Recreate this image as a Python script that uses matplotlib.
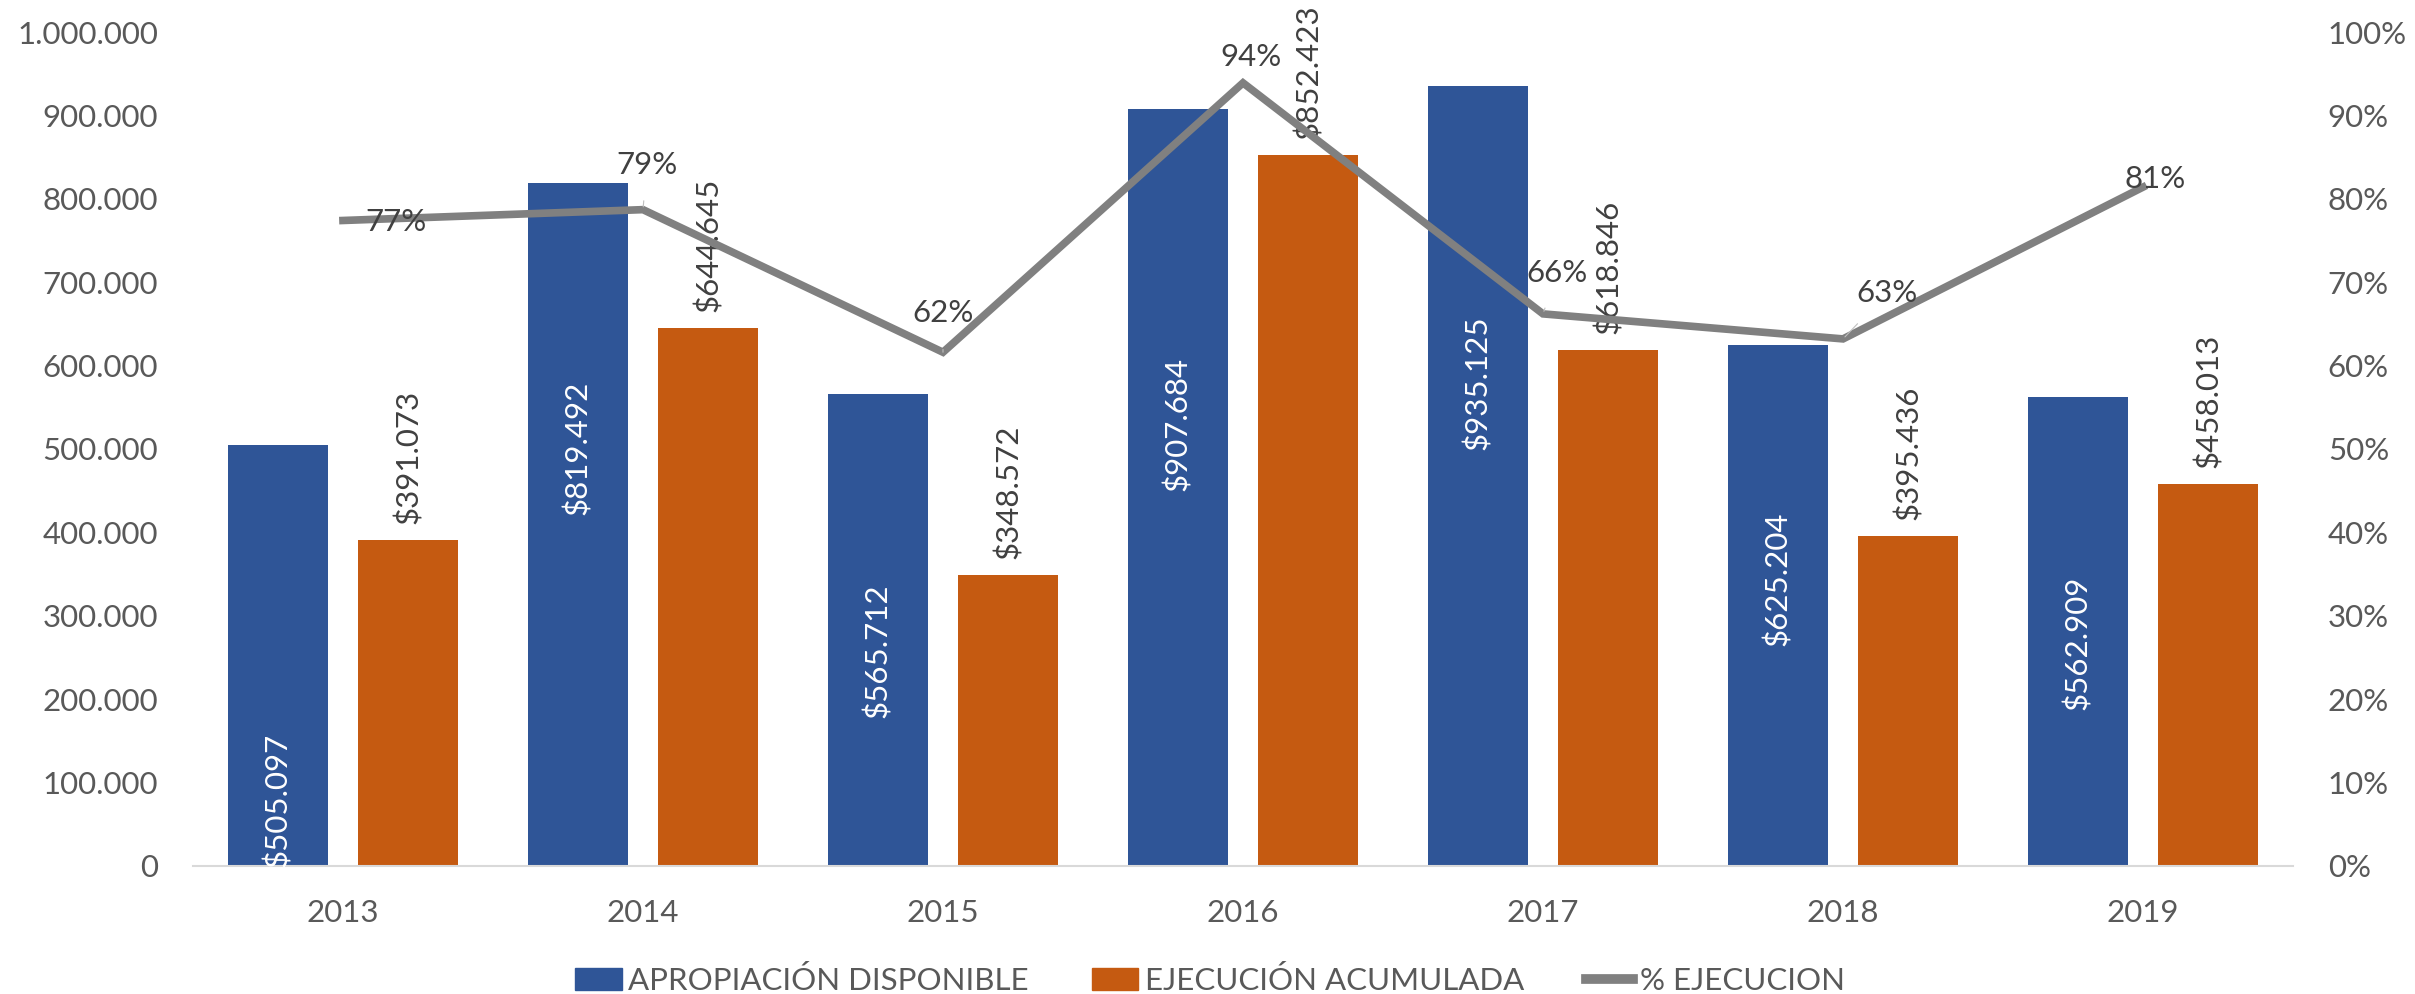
import numpy as np
import matplotlib.pyplot as plt
from matplotlib.patches import Patch
from matplotlib.lines import Line2D
from matplotlib.ticker import FuncFormatter

plt.rcParams['font.family'] = ['Lato', 'DejaVu Sans']

years = ['2013', '2014', '2015', '2016', '2017', '2018', '2019']
apropiacion = [505097, 819492, 565712, 907684, 935125, 625204, 562909]
ejecucion = [391073, 644645, 348572, 852423, 618846, 395436, 458013]
pct_ejecucion = [0.774, 0.787, 0.616, 0.939, 0.662, 0.632, 0.814]
pct_labels = ['77%', '79%', '62%', '94%', '66%', '63%', '81%']

# layout only: where the white labels sit inside the blue bars (data units)
blue_label_y = [79000, 502000, 258000, 530000, 579000, 345000, 268000]
# layout only: pixel offsets of the % labels from their points
pct_offsets = [(53, -2), (4, 45), (0, 39), (8, 26), (14, 41), (44, 46), (12, 8)]

blue = '#2F5597'
orange = '#C55A11'
gray = '#808080'
tick_col = '#595959'
lab_col = '#404040'
fs = 22.5

def miles(v, pos):
    return '{:,.0f}'.format(v).replace(',', '.')

fig = plt.figure(figsize=(24.15, 9.94), dpi=100)
ax = fig.add_axes([0.0799, 0.1288, 0.8696, 0.839])

x = np.arange(len(years))
w = 0.333
off = 0.217
ax.bar(x - off, apropiacion, w, color=blue, label='APROPIACIÓN DISPONIBLE', zorder=2)
ax.bar(x + off, ejecucion, w, color=orange, label='EJECUCIÓN ACUMULADA', zorder=2)

for i in range(len(years)):
    ax.text(x[i] - off, blue_label_y[i], '$' + miles(apropiacion[i], None),
            rotation=90, ha='center', va='center', color='white', fontsize=fs, zorder=3)
    ax.annotate('$' + miles(ejecucion[i], None), (x[i] + off, ejecucion[i]),
                xytext=(0, 16), textcoords='offset pixels', rotation=90,
                ha='center', va='bottom', color=lab_col, fontsize=fs, zorder=3)

ax.set_xlim(-0.5, len(years) - 0.5)
ax.set_ylim(0, 1000000)
ax.set_yticks(np.arange(0, 1000001, 100000))
ax.yaxis.set_major_formatter(FuncFormatter(miles))
ax.set_xticks(x)
ax.set_xticklabels(years)
ax.tick_params(axis='both', length=0, labelsize=fs, labelcolor=tick_col)
ax.tick_params(axis='y', pad=25)
ax.tick_params(axis='x', pad=24)
for s in ['top', 'right', 'left']:
    ax.spines[s].set_visible(False)
ax.spines['bottom'].set_color('#D9D9D9')
ax.spines['bottom'].set_linewidth(1.5)

ax2 = ax.twinx()
ax2.plot(x, pct_ejecucion, color=gray, lw=5.5, solid_joinstyle='miter', zorder=4)
ax2.set_ylim(0, 1)
ax2.set_yticks(np.arange(0, 1.01, 0.1))
ax2.yaxis.set_major_formatter(FuncFormatter(lambda v, p: '{:.0f}%'.format(v * 100)))
ax2.tick_params(axis='y', length=0, labelsize=fs, labelcolor=tick_col, pad=25)
for s in ['top', 'right', 'left', 'bottom']:
    ax2.spines[s].set_visible(False)

for i in range(len(years)):
    dx, dy = pct_offsets[i]
    arrow = None
    if dy > 30:
        arrow = dict(arrowstyle='-', color='#BFBFBF', lw=0.8, shrinkA=14, shrinkB=2)
    ax2.annotate(pct_labels[i], (x[i], pct_ejecucion[i]), xytext=(dx, dy),
                 textcoords='offset pixels', ha='center', va='center',
                 color=lab_col, fontsize=fs, arrowprops=arrow, zorder=5)

handles = [Patch(color=blue), Patch(color=orange), Line2D([], [], color=gray, lw=7)]
names = ['APROPIACIÓN DISPONIBLE', 'EJECUCIÓN ACUMULADA', '% EJECUCION']
leg = fig.legend(handles, names, loc='center', bbox_to_anchor=(0.501, 0.014), ncol=3,
                 frameon=False, fontsize=fs, handlelength=1.5, handleheight=0.7,
                 handletextpad=0.2, columnspacing=2.0, labelcolor=tick_col)

fig.savefig('out.png', dpi=100)
